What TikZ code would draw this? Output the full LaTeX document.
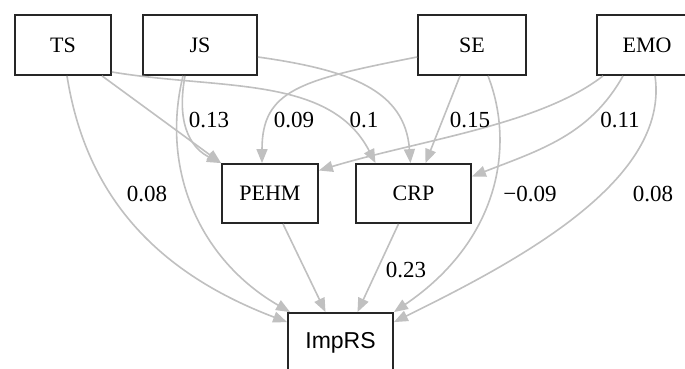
\documentclass[tikz,border=0pt]{standalone}
\usepackage{fontspec}
\setmainfont{Liberation Serif}
\newfontfamily\arialfont{Liberation Sans}
\usetikzlibrary{arrows.meta}
\definecolor{edgegray}{HTML}{C0C0C0}
\definecolor{boxline}{HTML}{262626}
\tikzset{
  var/.style={draw=boxline, line width=1.8pt, inner sep=0pt, minimum height=60pt,
    font=\fontsize{22}{26}\selectfont, text=black},
  edge/.style={draw=edgegray, line width=1.6pt,
    -{Triangle[length=14pt,width=11pt,fill=edgegray]}},
  coef/.style={font=\fontsize{23}{26}\selectfont, text=black, inner sep=0pt}
}
\begin{document}
\begin{tikzpicture}[x=1pt,y=-1pt]
\clip (0,0) rectangle (685,369);
\fill[white] (0,0) rectangle (685,369);
% nodes
\node[var, minimum width=96pt] (TS) at (63,45) {TS};
\node[var, minimum width=114pt] (JS) at (200,45) {JS};
\node[var, minimum width=108pt] (SE) at (472,45) {SE};
\node[var, minimum width=100pt] (EMO) at (647,45) {EMO};
\node[var, minimum width=96pt, minimum height=59pt] (PEHM) at (270,193.5) {PEHM};
\node[var, minimum width=115pt, minimum height=59pt] (CRP) at (413.5,193.5) {CRP};
\node[var, minimum width=105pt, font=\arialfont\fontsize{23}{26}\selectfont] (ImpRS) at (340.5,343) {ImpRS};
% edges
\draw[edge] ([xshift=39pt]TS.south) -- (PEHM.north west);
\draw[edge] ([yshift=-27pt]TS.east) .. controls (220,90) and (330,75) .. ([xshift=-38pt]CRP.north);
\draw[edge] ([xshift=4pt]TS.south) .. controls (85,190) and (150,270) .. ([yshift=-10pt]ImpRS.north west);
\draw[edge] ([xshift=-15pt]JS.south) .. controls (175,130) and (195,150) .. (PEHM.north west);
\draw[edge] ([xshift=-17pt]JS.south) .. controls (160,170) and (200,260) .. ([xshift=3pt]ImpRS.north west);
\draw[edge] ([yshift=-12pt]JS.east) .. controls (350,70) and (405,90) .. ([xshift=-3pt]CRP.north);
\draw[edge] ([yshift=-12pt]SE.west) .. controls (300,80) and (262,90) .. ([xshift=-8pt]PEHM.north);
\draw[edge] ([xshift=-12pt]SE.south) -- ([xshift=12pt]CRP.north);
\draw[edge] ([xshift=16pt]SE.south) .. controls (515,145) and (500,240) .. (ImpRS.north east);
\draw[edge] ([xshift=-44pt]EMO.south) .. controls (540,125) and (420,140) .. ([yshift=23pt]PEHM.east);
\draw[edge] ([xshift=-24pt]EMO.south) .. controls (590,135) and (540,150) .. ([yshift=17pt]CRP.east);
\draw[edge] ([xshift=8pt]EMO.south) .. controls (670,180) and (520,260) .. ([yshift=-10pt]ImpRS.north east);
\draw[edge] ([xshift=13pt]PEHM.south) -- ([xshift=-15pt]ImpRS.north);
\draw[edge] ([xshift=-15pt]CRP.south) -- ([xshift=17pt]ImpRS.north);
% coefficients
\node[coef] (c1) at (209,120) {0.13};
\node[coef] (c2) at (294,120) {0.09};
\node[coef] (c3) at (364,120) {0.1};
\node[coef] (c4) at (470,120) {0.15};
\node[coef] (c5) at (620,120) {0.11};
\node[coef] (c6) at (147,194) {0.08};
\node[coef] (c7) at (530,194) {−0.09};
\node[coef] (c8) at (653,194) {0.08};
\node[coef] (c9) at (406,270) {0.23};
\end{tikzpicture}
\end{document}
